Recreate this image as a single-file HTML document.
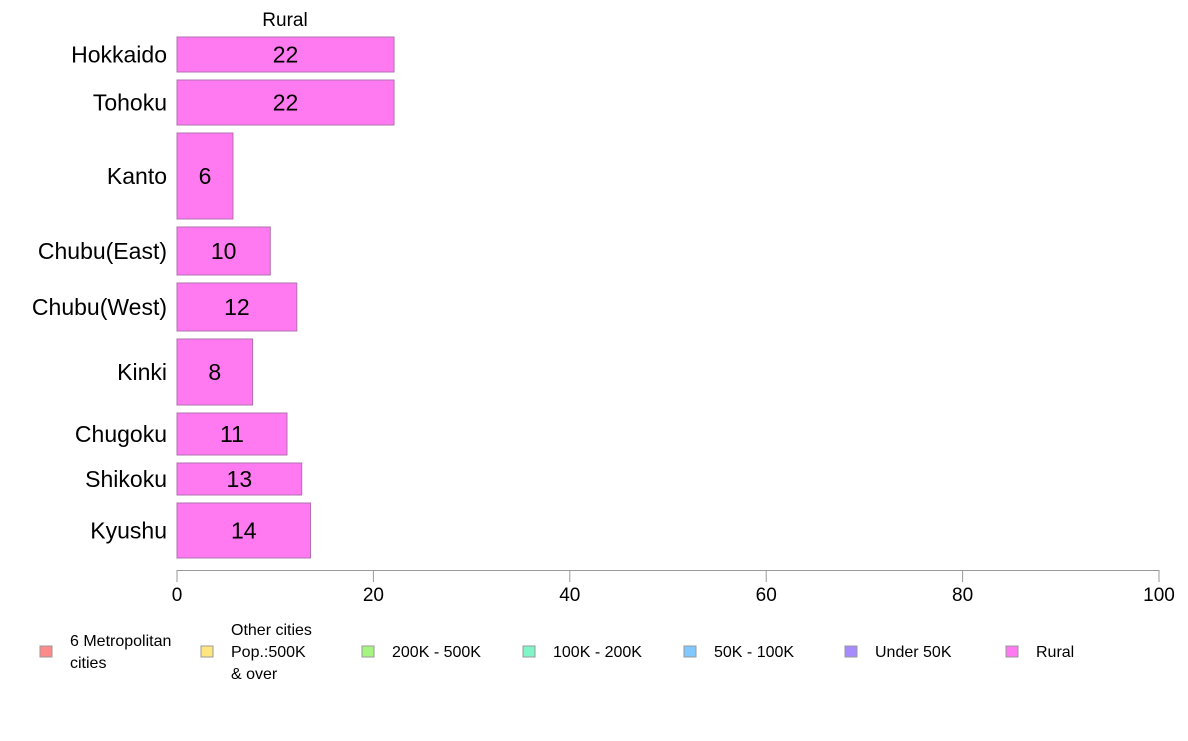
<!DOCTYPE html>
<html><head><meta charset="utf-8"><style>
body{margin:0;background:#fff;font-family:"Liberation Sans",Arial,sans-serif}
</style></head><body>
<svg id="chart" width="1188" height="736" xmlns="http://www.w3.org/2000/svg" font-family="Liberation Sans, Arial, sans-serif">
<text x="285" y="26" font-size="19" text-anchor="middle">Rural</text>
<g id="bars"></g>
<g id="axis"></g>
<g id="legend"></g>
</svg>
<script>
const categories=["Hokkaido","Tohoku","Kanto","Chubu(East)","Chubu(West)","Kinki","Chugoku","Shikoku","Kyushu"];
const values=[22.1,22.1,5.7,9.5,12.2,7.7,11.2,12.7,13.6];
const valueLabels=["22","22","6","10","12","8","11","13","14"];
const weights=[35,45,86,48,48,66,42,32,55];
const ticks=[0,20,40,60,80,100];
const legendLabels=[["6 Metropolitan"," cities"],["Other cities","Pop.:500K"," & over"],["200K - 500K"],["100K - 200K"],["50K - 100K"],["Under 50K"],["Rural"]];
const legendColors=["#ff8a8a","#ffe680","#a6f580","#80f5c8","#80c8ff","#a88aff","#ff7af0"];
const NS="http://www.w3.org/2000/svg";
const x0=177,x1=1159,yTop=37,yBottom=558,gap=8;
const xs=v=>x0+(v/100)*(x1-x0);
function mk(t,a,p){const e=document.createElementNS(NS,t);for(const k in a)e.setAttribute(k,a[k]);p.appendChild(e);return e;}
const totalW=weights.reduce((a,b)=>a+b,0);
const scaleH=(yBottom-yTop-gap*(categories.length-1))/totalW;
const bg=document.getElementById('bars');
let yPos=yTop;
categories.forEach((c,i)=>{
  const h=weights[i]*scaleH;
  const r=mk('rect',{x:x0,y:yPos,width:xs(values[i])-x0,height:h,fill:'#ff7af0',stroke:'#b070b0','stroke-width':1},bg);
  
  
  const t=mk('text',{x:(x0+xs(values[i]))/2,y:yPos+h/2+8,'font-size':23,'text-anchor':'middle'},bg);
  t.textContent=valueLabels[i];
  
  
  const l=mk('text',{x:167,y:yPos+h/2+8,'font-size':23,'text-anchor':'end'},bg);
  l.textContent=c;
  
  
  yPos+=h+gap;
});
const ax=document.getElementById('axis');
const al=mk('line',{x1:x0,x2:x1,y1:570.5,y2:570.5,stroke:'#999'},ax);


ticks.forEach(v=>{
  const tl=mk('line',{x1:xs(v),x2:xs(v),y1:570,y2:582,stroke:'#999'},ax);
  
  
  const tt=mk('text',{x:xs(v),y:601,'font-size':19,'text-anchor':'middle'},ax);
  tt.textContent=v;
  
  
});
const lg=document.getElementById('legend');
const lx=[40,201,362,523,684,845,1006];
legendLabels.forEach((lines,i)=>{
  const g=mk('g',{},lg);
  
  
  mk('rect',{x:lx[i],y:646,width:12,height:11,fill:legendColors[i],stroke:'#999'},g);
  const n=lines.length;
  lines.forEach((s,j)=>{
    const t=mk('text',{x:lx[i]+30,y:657+(j-(n-1)/2)*22,'font-size':16},g);
    t.setAttribute('xml:space','preserve');
    t.textContent=s;
  });
});
</script>
</body></html>
